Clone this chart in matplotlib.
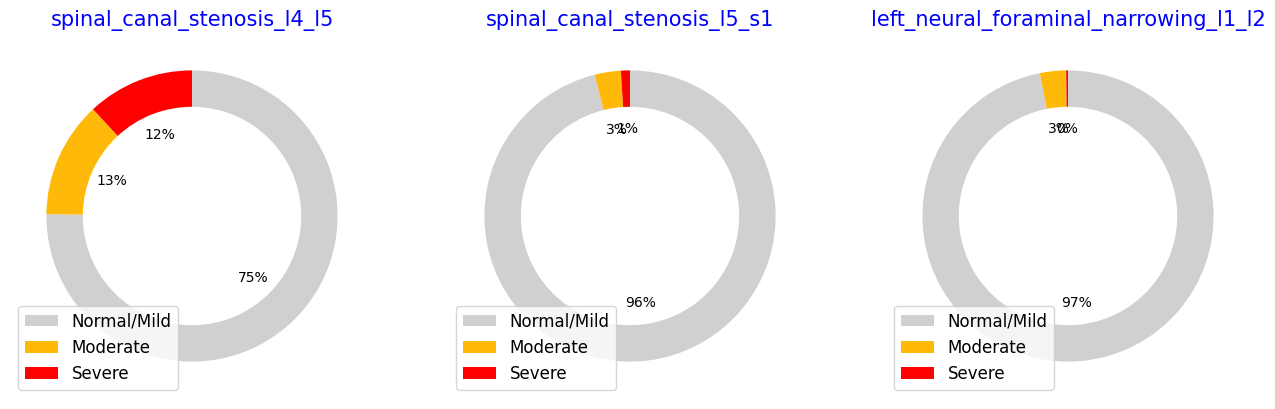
import matplotlib.pyplot as plt

labels = ["Normal/Mild", "Moderate", "Severe"]
colors = ["#D0D0D0", "#FFB908", "#FF0000"]

titles = ["spinal_canal_stenosis_l4_l5", "spinal_canal_stenosis_l5_s1",
          "left_neural_foraminal_narrowing_l1_l2"]
l4_l5 = [75.2, 12.9, 11.9]
l5_s1 = [96.1, 2.9, 1.0]
l1_l2 = [96.9, 2.9, 0.2]
all_values = [l4_l5, l5_s1, l1_l2]

fig, axes = plt.subplots(1, 3, figsize=(12.75, 4.09), dpi=100)
fig.subplots_adjust(left=10/1275, right=1250/1275, bottom=11/409, top=1-34/409, wspace=74/364)

for ax, vals, title in zip(axes, all_values, titles):
    ax.pie(vals, colors=colors, autopct="%1.0f%%", startangle=90, counterclock=False,
           wedgeprops=dict(width=0.25))
    ax.set_title(title, color="blue", fontsize=15)
    ax.legend(labels, loc="lower left", fontsize=12)
    ax.set_aspect("equal")

plt.savefig("out.png")
